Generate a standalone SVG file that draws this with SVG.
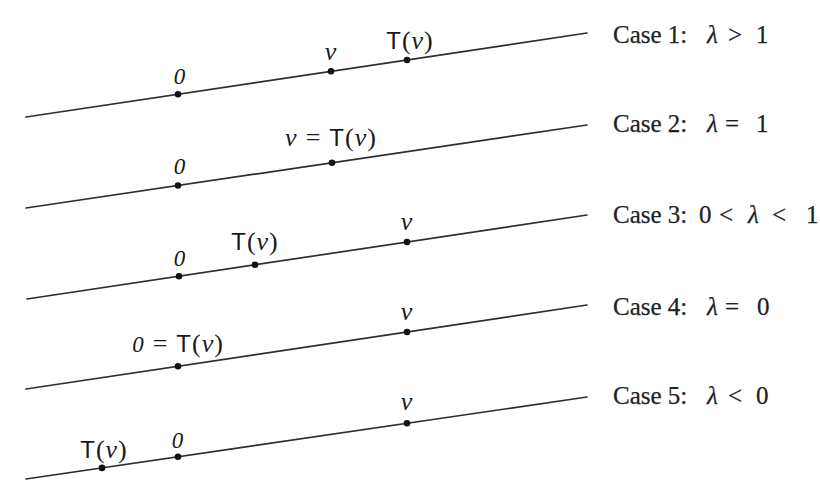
<svg xmlns="http://www.w3.org/2000/svg" width="820" height="494" viewBox="0 0 820 494">
  <style>
    .ln { stroke: #2e2e2e; stroke-width: 1.7; fill: none; stroke-linecap: round; }
    .dot { fill: #111; }
    .lab { font-family: "Liberation Serif", "DejaVu Serif", serif; font-size: 26px; fill: #1a1a1a; letter-spacing: 1px; }
    .it { font-style: italic; }
    .z { font-style: italic; font-size: 23px; }
    .sf { font-family: "Liberation Sans", "DejaVu Sans", sans-serif; font-size: 24px; }
    .case { font-family: "Liberation Serif", "DejaVu Serif", serif; font-size: 25px; fill: #222; stroke: #222; stroke-width: 0.25; }
  </style>
  <rect width="820" height="494" fill="#ffffff"/>

  <g id="connectors">
    <line class="ln" x1="26" y1="117" x2="587" y2="33"/>
    <line class="ln" x1="26" y1="208" x2="587" y2="125"/>
    <line class="ln" x1="27" y1="299" x2="587" y2="215"/>
    <line class="ln" x1="26" y1="389" x2="587" y2="305"/>
    <line class="ln" x1="26" y1="479" x2="587" y2="397"/>
  </g>

  <!-- Case 1 -->
  <g id="case1">
    <g id="c1-zero"><circle class="dot" cx="178" cy="94.2" r="3.3"/><text class="lab z" x="180" y="84" text-anchor="middle">0</text></g>
    <g id="c1-v"><circle class="dot" cx="331" cy="71.3" r="3.3"/><text class="lab it" x="331" y="60" text-anchor="middle">v</text></g>
    <g id="c1-tv"><circle class="dot" cx="407" cy="60" r="3.3"/><text class="lab" x="410" y="49" text-anchor="middle"><tspan class="sf">T</tspan>(<tspan class="it">v</tspan>)</text></g>
    <text class="case" y="43"><tspan x="613">Case 1:</tspan><tspan x="707" class="it">λ</tspan><tspan x="728">&gt;</tspan><tspan x="756">1</tspan></text>
  </g>

  <!-- Case 2 -->
  <g id="case2">
    <g id="c2-zero"><circle class="dot" cx="178" cy="185.5" r="3.3"/><text class="lab z" x="180" y="174" text-anchor="middle">0</text></g>
    <g id="c2-v"><circle class="dot" cx="332" cy="162.7" r="3.3"/><text class="lab" x="331" y="146" text-anchor="middle"><tspan class="it">v</tspan><tspan dx="8">=</tspan><tspan dx="8" class="sf">T</tspan>(<tspan class="it">v</tspan>)</text></g>
    <text class="case" y="132"><tspan x="613">Case 2:</tspan><tspan x="707" class="it">λ</tspan><tspan x="725">=</tspan><tspan x="756">1</tspan></text>
  </g>

  <!-- Case 3 -->
  <g id="case3">
    <g id="c3-zero"><circle class="dot" cx="179" cy="276.2" r="3.3"/><text class="lab z" x="180" y="266" text-anchor="middle">0</text></g>
    <g id="c3-tv"><circle class="dot" cx="255" cy="264.8" r="3.3"/><text class="lab" x="255" y="250" text-anchor="middle"><tspan class="sf">T</tspan>(<tspan class="it">v</tspan>)</text></g>
    <g id="c3-v"><circle class="dot" cx="407" cy="242" r="3.3"/><text class="lab it" x="407" y="230" text-anchor="middle">v</text></g>
    <text class="case" y="223"><tspan x="613">Case 3:</tspan><tspan x="699">0</tspan><tspan x="719">&lt;</tspan><tspan x="748" class="it">λ</tspan><tspan x="772">&lt;</tspan><tspan x="806">1</tspan></text>
  </g>

  <!-- Case 4 -->
  <g id="case4">
    <g id="c4-zero"><circle class="dot" cx="178" cy="366.2" r="3.3"/><text class="lab" x="178" y="352" text-anchor="middle"><tspan class="z">0</tspan><tspan dx="8">=</tspan><tspan dx="8" class="sf">T</tspan>(<tspan class="it">v</tspan>)</text></g>
    <g id="c4-v"><circle class="dot" cx="407" cy="332" r="3.3"/><text class="lab it" x="407" y="320" text-anchor="middle">v</text></g>
    <text class="case" y="315"><tspan x="613">Case 4:</tspan><tspan x="707" class="it">λ</tspan><tspan x="725">=</tspan><tspan x="757">0</tspan></text>
  </g>

  <!-- Case 5 -->
  <g id="case5">
    <g id="c5-tv"><circle class="dot" cx="102" cy="467.9" r="3.3"/><text class="lab" x="104" y="458" text-anchor="middle"><tspan class="sf">T</tspan>(<tspan class="it">v</tspan>)</text></g>
    <g id="c5-zero"><circle class="dot" cx="178" cy="456.8" r="3.3"/><text class="lab z" x="178" y="448" text-anchor="middle">0</text></g>
    <g id="c5-v"><circle class="dot" cx="407" cy="423.3" r="3.3"/><text class="lab it" x="407" y="410" text-anchor="middle">v</text></g>
    <text class="case" y="404"><tspan x="613">Case 5:</tspan><tspan x="707" class="it">λ</tspan><tspan x="728">&lt;</tspan><tspan x="756">0</tspan></text>
  </g>
</svg>
